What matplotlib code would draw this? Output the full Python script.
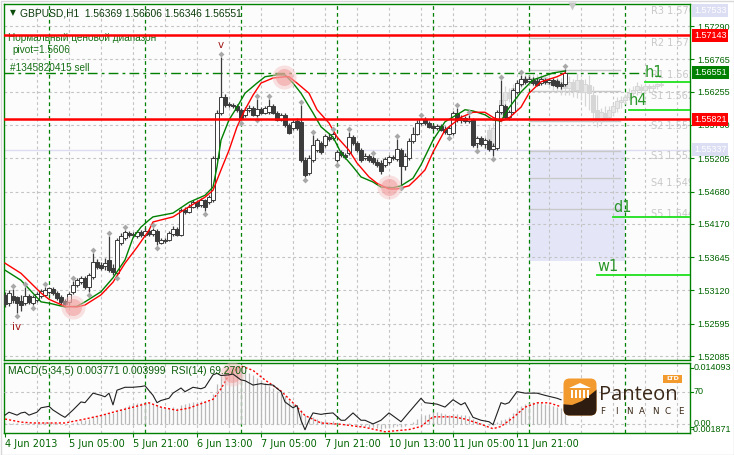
import numpy as np
import matplotlib
matplotlib.use("Agg")
import matplotlib.pyplot as plt
from matplotlib.patches import Rectangle, FancyBboxPatch, Polygon
import matplotlib.transforms as mtransforms

# ---------------------------------------------------------------- data
symbol = "GBPUSD,H1"

opens = [
    1.5305, 1.5292, 1.5303, 1.5302, 1.5295, 1.5292, 1.5303, 1.5292, 1.5297, 1.5303,
    1.5305, 1.5310, 1.5314, 1.5308, 1.5302, 1.5295, 1.5294, 1.5310, 1.5321, 1.5325,
    1.5332, 1.5317, 1.5333, 1.5357, 1.5352, 1.5351, 1.5360, 1.5347, 1.5339, 1.5387,
    1.5395, 1.5403, 1.5399, 1.5398, 1.5404, 1.5399, 1.5406, 1.5401, 1.5406, 1.5387,
    1.5390, 1.5392, 1.5401, 1.5409, 1.5399, 1.5439, 1.5436, 1.5444, 1.5451, 1.5447,
    1.5455, 1.5451, 1.5455, 1.5521, 1.5592, 1.5617, 1.5604, 1.5604, 1.5603, 1.5597,
    1.5589, 1.5597, 1.5600, 1.5589, 1.5598, 1.5592, 1.5593, 1.5603, 1.5592, 1.5581,
    1.5589, 1.5573, 1.5568, 1.5579, 1.5578, 1.5518, 1.5497, 1.5518, 1.5533, 1.5544,
    1.5541, 1.5554, 1.5552, 1.5518, 1.5530, 1.5526, 1.5529, 1.5554, 1.5544, 1.5533,
    1.5521, 1.5524, 1.5521, 1.5515, 1.5513, 1.5510, 1.5515, 1.5522, 1.5519, 1.5533,
    1.5508, 1.5521, 1.5548, 1.5559, 1.5576, 1.5581, 1.5576, 1.5571, 1.5568, 1.5571,
    1.5567, 1.5559, 1.5560, 1.5592, 1.5581, 1.5584, 1.5579, 1.5581, 1.5544, 1.5552,
    1.5543, 1.5548, 1.5535, 1.5537, 1.5593, 1.5603, 1.5585, 1.5593, 1.5625, 1.5638,
    1.5645, 1.5642, 1.5644, 1.5642, 1.5639, 1.5644, 1.5641, 1.5644, 1.5642, 1.5638, 1.56369,
]
closes = [
    1.5291, 1.5308, 1.5297, 1.5292, 1.5289, 1.5303, 1.5294, 1.5302, 1.5306, 1.5311,
    1.5313, 1.5316, 1.5308, 1.5300, 1.5294, 1.5291, 1.5306, 1.5321, 1.5328, 1.5332,
    1.5317, 1.5336, 1.5357, 1.5349, 1.5347, 1.5355, 1.5344, 1.5341, 1.5392, 1.5398,
    1.5404, 1.5399, 1.5401, 1.5404, 1.5399, 1.5406, 1.5401, 1.5407, 1.5390, 1.5392,
    1.5392, 1.5403, 1.5409, 1.5399, 1.5439, 1.5436, 1.5444, 1.5451, 1.5445, 1.5455,
    1.5444, 1.5459, 1.5521, 1.5592, 1.5617, 1.5604, 1.5606, 1.5603, 1.5597, 1.5584,
    1.5597, 1.5600, 1.5589, 1.5598, 1.5592, 1.5600, 1.5603, 1.5592, 1.5581, 1.5589,
    1.5573, 1.5560, 1.5578, 1.5568, 1.5518, 1.5494, 1.5521, 1.5541, 1.5549, 1.5530,
    1.5555, 1.5551, 1.5559, 1.5530, 1.5526, 1.5522, 1.5554, 1.5544, 1.5533, 1.5518,
    1.5524, 1.5518, 1.5515, 1.5510, 1.5500, 1.5519, 1.5522, 1.5521, 1.5535, 1.5508,
    1.5524, 1.5548, 1.5559, 1.5576, 1.5582, 1.5576, 1.5570, 1.5568, 1.5571, 1.5565,
    1.5562, 1.5568, 1.5592, 1.5581, 1.5584, 1.5579, 1.5582, 1.5541, 1.5552, 1.5543,
    1.5549, 1.5535, 1.5540, 1.5593, 1.5604, 1.5585, 1.5593, 1.5628, 1.5639, 1.5645,
    1.5641, 1.5645, 1.5639, 1.5636, 1.5645, 1.5641, 1.5644, 1.5636, 1.5634, 1.5634, 1.56551,
]
highs = [
    1.5310, 1.5313, 1.5314, 1.5303, 1.5305, 1.5317, 1.5306, 1.5305, 1.5310, 1.5314,
    1.5317, 1.5317, 1.5317, 1.5311, 1.5305, 1.5298, 1.5310, 1.5327, 1.5332, 1.5335,
    1.5335, 1.5339, 1.5371, 1.5362, 1.5357, 1.5363, 1.5398, 1.5354, 1.5395, 1.5403,
    1.5407, 1.5406, 1.5404, 1.5407, 1.5407, 1.5410, 1.5409, 1.5410, 1.5409, 1.5395,
    1.5395, 1.5406, 1.5414, 1.5412, 1.5442, 1.5444, 1.5448, 1.5455, 1.5455, 1.5458,
    1.5456, 1.5462, 1.5524, 1.5597, 1.5680, 1.5622, 1.5609, 1.5608, 1.5606, 1.5600,
    1.5601, 1.5604, 1.5603, 1.5614, 1.5601, 1.5603, 1.5614, 1.5606, 1.5595, 1.5592,
    1.5592, 1.5576, 1.5581, 1.5584, 1.5604, 1.5522, 1.5526, 1.5557, 1.5552, 1.5548,
    1.5559, 1.5560, 1.5562, 1.5533, 1.5533, 1.5529, 1.5562, 1.5557, 1.5548, 1.5537,
    1.5529, 1.5527, 1.5524, 1.5519, 1.5518, 1.5522, 1.5526, 1.5526, 1.5551, 1.5537,
    1.5529, 1.5552, 1.5570, 1.5581, 1.5584, 1.5585, 1.5579, 1.5574, 1.5574, 1.5574,
    1.5571, 1.5571, 1.5595, 1.5600, 1.5589, 1.5587, 1.5589, 1.5584, 1.5555, 1.5555,
    1.5552, 1.5551, 1.5544, 1.5597, 1.5644, 1.5606, 1.5597, 1.5631, 1.5644, 1.5652,
    1.5650, 1.5650, 1.5649, 1.5647, 1.5649, 1.5647, 1.5647, 1.5647, 1.5645, 1.5641, 1.56606,
]
lows = [
    1.5286, 1.5287, 1.5292, 1.5276, 1.5280, 1.5289, 1.5291, 1.5289, 1.5294, 1.5300,
    1.5303, 1.5306, 1.5305, 1.5297, 1.5291, 1.5286, 1.5289, 1.5306, 1.5317, 1.5322,
    1.5314, 1.5310, 1.5330, 1.5346, 1.5344, 1.5344, 1.5341, 1.5336, 1.5336, 1.5384,
    1.5392, 1.5396, 1.5396, 1.5395, 1.5396, 1.5396, 1.5398, 1.5398, 1.5384, 1.5385,
    1.5387, 1.5390, 1.5398, 1.5398, 1.5398, 1.5433, 1.5434, 1.5442, 1.5442, 1.5444,
    1.5437, 1.5448, 1.5451, 1.5518, 1.5589, 1.5601, 1.5601, 1.5600, 1.5593, 1.5581,
    1.5585, 1.5593, 1.5587, 1.5585, 1.5590, 1.5590, 1.5590, 1.5590, 1.5579, 1.5579,
    1.5570, 1.5559, 1.5565, 1.5565, 1.5515, 1.5491, 1.5494, 1.5515, 1.5530, 1.5527,
    1.5538, 1.5548, 1.5549, 1.5515, 1.5522, 1.5519, 1.5526, 1.5541, 1.5530, 1.5515,
    1.5518, 1.5515, 1.5511, 1.5507, 1.5496, 1.5507, 1.5511, 1.5518, 1.5516, 1.5478,
    1.5502, 1.5518, 1.5544, 1.5557, 1.5573, 1.5573, 1.5568, 1.5565, 1.5565, 1.5563,
    1.5559, 1.5557, 1.5557, 1.5578, 1.5576, 1.5576, 1.5576, 1.5538, 1.5537, 1.5540,
    1.5537, 1.5532, 1.5524, 1.5533, 1.5590, 1.5582, 1.5581, 1.5590, 1.5622, 1.5634,
    1.5638, 1.5639, 1.5636, 1.5634, 1.5636, 1.5638, 1.5638, 1.5634, 1.5631, 1.5630, 1.56346,
]

# pale projected candles (bars 121 .. 164)
ghost_first = 121
ghost_open = [
    1.5565, 1.5541, 1.5568, 1.5581, 1.5612, 1.5625, 1.5617, 1.5631, 1.5636, 1.5644,
    1.5647, 1.5641, 1.5647, 1.5644, 1.5649, 1.5644, 1.5638, 1.5644, 1.5634, 1.5641,
    1.5631, 1.5641, 1.5628, 1.5644, 1.5625, 1.5636, 1.5620, 1.5597, 1.5581, 1.5592,
    1.5585, 1.5593, 1.5600, 1.5609, 1.5612, 1.5617, 1.5623, 1.5628, 1.5633, 1.5628,
    1.5634, 1.5631, 1.5634, 1.5636,
]
ghost_close = [
    1.5541, 1.5568, 1.5581, 1.5612, 1.5625, 1.5615, 1.5631, 1.5636, 1.5644, 1.5647,
    1.5641, 1.5647, 1.5644, 1.5649, 1.5644, 1.5638, 1.5644, 1.5634, 1.5641, 1.5631,
    1.5641, 1.5628, 1.5644, 1.5625, 1.5638, 1.5623, 1.5593, 1.5581, 1.5593, 1.5584,
    1.5597, 1.5603, 1.5611, 1.5612, 1.5617, 1.5623, 1.5628, 1.5634, 1.5628, 1.5634,
    1.5631, 1.5634, 1.5638, 1.5638,
]
ghost_high = [
    1.5573, 1.5576, 1.5589, 1.5620, 1.5634, 1.5631, 1.5638, 1.5644, 1.5650, 1.5653,
    1.5652, 1.5653, 1.5653, 1.5655, 1.5653, 1.5650, 1.5649, 1.5649, 1.5647, 1.5647,
    1.5650, 1.5645, 1.5655, 1.5647, 1.5645, 1.5652, 1.5634, 1.5620, 1.5600, 1.5603,
    1.5603, 1.5608, 1.5617, 1.5619, 1.5622, 1.5631, 1.5634, 1.5641, 1.5638, 1.5639,
    1.5638, 1.5638, 1.5639, 1.5641,
]
ghost_low = [
    1.5533, 1.5537, 1.5565, 1.5576, 1.5606, 1.5609, 1.5612, 1.5625, 1.5631, 1.5638,
    1.5636, 1.5634, 1.5638, 1.5639, 1.5638, 1.5631, 1.5628, 1.5625, 1.5620, 1.5620,
    1.5620, 1.5617, 1.5615, 1.5612, 1.5603, 1.5597, 1.5576, 1.5570, 1.5574, 1.5579,
    1.5581, 1.5587, 1.5593, 1.5600, 1.5606, 1.5612, 1.5617, 1.5620, 1.5622, 1.5623,
    1.5625, 1.5626, 1.5630, 1.5633,
]

up_fractals = [2, 5, 10, 17, 22, 26, 30, 37, 54, 63, 66, 74, 77, 82, 86, 92, 98,
               104, 113, 116, 124, 129, 140]
down_fractals = [3, 7, 21, 28, 38, 50, 59, 63, 75, 83, 99, 111, 118, 122]

ma_fast_idx = [0, 4, 9, 11, 15, 18, 20, 24, 27, 30, 32, 34, 36, 37, 42, 46, 50, 52, 53, 54,
               56, 58, 60, 63, 65, 68, 70, 72, 74, 77, 79, 82, 84, 87, 89, 92, 94, 97, 99, 102,
               104, 107, 110, 114, 115, 117, 120, 122, 124, 126, 129, 132, 137, 140]
ma_fast = [1.5344, 1.5328, 1.5294, 1.5292, 1.5286, 1.5287, 1.5294, 1.5310, 1.5332, 1.5360,
           1.5395, 1.5412, 1.5423, 1.5428, 1.5434, 1.5451, 1.5462, 1.5475, 1.5507, 1.5549,
           1.5581, 1.5601, 1.5623, 1.5639, 1.5649, 1.5652, 1.5652, 1.5639, 1.5623, 1.5592,
           1.5570, 1.5554, 1.5529, 1.5507, 1.5491, 1.5483, 1.5475, 1.5474, 1.5477, 1.5489,
           1.5510, 1.5549, 1.5578, 1.5593, 1.5597, 1.5595, 1.5589, 1.5581, 1.5579, 1.5600,
           1.5625, 1.5644, 1.5655, 1.5658]
ma_slow_idx = [0, 4, 9, 11, 15, 18, 20, 24, 27, 30, 33, 36, 37, 42, 46, 50, 52, 54, 56, 58,
               60, 62, 64, 67, 70, 71, 73, 76, 78, 81, 83, 86, 88, 91, 93, 96, 98, 101, 103, 105,
               107, 110, 114, 117, 120, 122, 124, 126, 129, 131, 134, 138, 140]
ma_slow = [1.5355, 1.5339, 1.5308, 1.5298, 1.5287, 1.5286, 1.5289, 1.5305, 1.5325, 1.5355,
           1.5380, 1.5407, 1.5420, 1.5428, 1.5444, 1.5459, 1.5470, 1.5502, 1.5533, 1.5570,
           1.5597, 1.5620, 1.5639, 1.5647, 1.5649, 1.5649, 1.5639, 1.5623, 1.5597, 1.5576,
           1.5554, 1.5533, 1.5513, 1.5491, 1.5481, 1.5472, 1.5472, 1.5477, 1.5489, 1.5502,
           1.5530, 1.5565, 1.5585, 1.5593, 1.5593, 1.5585, 1.5579, 1.5584, 1.5601, 1.5623,
           1.5641, 1.5649, 1.5655]

macd_hist = [
    0.0004, 0.0003, 0.0004, 0.0002, 0.0001, 0.0003, 0.0002, 0.0002, 0.0003, 0.0004,
    0.0005, 0.0005, 0.0004, 0.0002, 0.0000, -0.0002,
    0.0000, 0.0003, 0.0006, 0.0009, 0.0010, 0.0013, 0.0018, 0.0020, 0.0022,
    0.0024, 0.0026, 0.0026, 0.0032, 0.0036, 0.0040, 0.0043, 0.0046,
    0.0048, 0.0049, 0.0050, 0.0050, 0.0047, 0.0043, 0.0040, 0.0037,
    0.0037, 0.0039, 0.0038, 0.0043, 0.0046, 0.0048, 0.0051, 0.0051, 0.0053, 0.0052,
    0.0054, 0.0070, 0.0092, 0.0110, 0.0118, 0.0124, 0.0128, 0.0130, 0.0128, 0.0124,
    0.0118, 0.0112, 0.0106, 0.0100, 0.0094, 0.0088, 0.0083, 0.0077, 0.0071, 0.0064,
    0.0056, 0.0049, 0.0042, 0.0032, 0.0022, 0.0017, 0.0016, 0.0012, 0.0008, 0.0007,
    0.0006, 0.0007, 0.0003, 0.0000, -0.0001, 0.0002, 0.0001, -0.0002, -0.0004, -0.0005,
    -0.0006, -0.0007, -0.0008, -0.0010, -0.0009, -0.0008, -0.0007, -0.0004, -0.0006, -0.0004,
    0.0001, 0.0006, 0.0012, 0.0018, 0.0021, 0.0024, 0.0027, 0.0027, 0.0025, 0.0024,
    0.0022, 0.0024, 0.0024, 0.0022, 0.0021, 0.0019, 0.0012, 0.0007, 0.0004, 0.0001,
    -0.0001, -0.0002, 0.0006, 0.0010, 0.0012, 0.0016, 0.0026, 0.0036, 0.0042, 0.0047,
    0.0049, 0.0050, 0.0050, 0.0048, 0.0046, 0.0044, 0.0042, 0.0039, 0.0037, 0.0038,
]
signal_idx = [0, 4, 7, 15, 20, 24, 28, 32, 36, 39, 43, 46, 49, 52, 54, 56, 59, 62, 65, 69,
              72, 75, 79, 84, 90, 95, 101, 104, 107, 112, 115, 119, 122, 124, 127, 130, 133, 136, 139]
signal_vals = [0.0012, 0.0005, 0.0003, 0.0003, 0.0012, 0.0020, 0.0030, 0.0039, 0.0049, 0.0039,
               0.0032, 0.0037, 0.0047, 0.0057, 0.0081, 0.0113, 0.0133, 0.0123, 0.0101, 0.0076,
               0.0049, 0.0020, 0.0003, 0.0000, -0.0007, -0.0017, -0.0012, -0.0005, 0.0017, 0.0017,
               0.0012, 0.0000, -0.0010, -0.0005, 0.0015, 0.0039, 0.0049, 0.0049, 0.0040]
rsi_idx = [0, 1, 3, 4, 5, 6, 8, 9, 11, 12, 14, 15, 17, 19, 20, 22, 24, 25, 26, 27,
           28, 30, 32, 34, 35, 37, 38, 39, 41, 42, 44, 45, 47, 49, 50, 52, 53, 54, 56, 57,
           59, 60, 62, 64, 65, 67, 69, 70, 72, 73, 74, 75, 76, 77, 79, 80, 82, 84, 85, 87,
           89, 90, 92, 94, 96, 99, 101, 104, 105, 108, 110, 112, 114, 115, 117, 119, 121, 122, 124, 125,
           126, 128, 130, 133, 135, 138, 139]
rsi_vals = [38, 42, 38, 41, 42, 38, 42, 48, 50, 45, 38, 35, 45, 56, 55, 68, 65, 63, 68, 52,
            72, 76, 76, 77, 78, 65, 55, 58, 61, 68, 75, 70, 76, 74, 76, 93, 95, 92, 93, 94,
            86, 85, 79, 81, 80, 79, 70, 56, 48, 51, 31, 18, 31, 41, 39, 40, 41, 31, 31, 41,
            31, 31, 26, 31, 41, 29, 42, 61, 55, 53, 49, 59, 52, 55, 35, 31, 29, 25, 55, 53,
            55, 70, 68, 68, 65, 61, 59]
macd_last, signal_last, rsi_last = 0.003771, 0.003999, 69.27
macd_max, macd_min = 0.014093, -0.001871
rsi_level = 70

time_ticks = [0, 16, 32, 48, 64, 80, 96, 112, 128]
time_labels = ["4 Jun 2013", "5 Jun 05:00", "5 Jun 21:00", "6 Jun 13:00", "7 Jun 05:00",
               "7 Jun 21:00", "10 Jun 13:00", "11 Jun 05:00", "11 Jun 21:00"]
day_starts = [11, 35, 59, 83, 107, 131, 155]
price_ticks = [1.52085, 1.52595, 1.53120, 1.53645, 1.54170, 1.54680, 1.55205,
               1.55730, 1.56255, 1.56765, 1.57290]

resistance_lines = [1.57143, 1.55821]
order_price = 1.56551
order_label = "#1345820415 sell"
zone_line = 1.55337
top_marker_price = 1.57533
range_label = "Нормальный ценовой диапазон"
pivot_value = 1.5606
pivot_names = ["R3", "R2", "R1", "S1", "S2", "S3", "S4", "S5"]
pivot_values = [1.5760, 1.5710, 1.5659, 1.5626, 1.5579, 1.5532, 1.5490, 1.5440]
tf_names = ["h1", "h4", "d1", "w1"]
tf_levels = [1.5641, 1.5597, 1.5428, 1.5336]
tf_start = [160, 156, 152, 148]
box_start, box_end = 131, 155
box_low, box_high = 1.5358, 1.5532
wave_labels = [("v", 54, "up"), ("iv", 3, "down")]
circle_main_x = [17, 69.75, 96]
circle_main_y = [1.5286, 1.5649, 1.5475]
circle_sub_x, circle_sub_y = 56.75, 0.01155

# ---------------------------------------------------------------- layout
W, H = 734, 455
fig = plt.figure(figsize=(W / 100, H / 100), dpi=100, facecolor="white")


def fx(px):
    return px / W


def fy(py):
    return 1 - py / H


L_PX, R_PX = 3.5, 690.0
MAIN_TOP, MAIN_BOT = 3.5, 359.5
SUB_TOP, SUB_BOT = 362.5, 432.5
XMIN, XMAX = -0.375, 171.25
PRICE_LO, PRICE_HI = 1.52031, 1.57645
RSI_LO, RSI_HI = 14.3, 109.8

BG = "#fcfcfc"
GREEN = "#008000"
TXT = "#006400"
GRID = "#c4c4c4"
CANDLE = "#3c3c3c"
LAV = "#dcdef4"
NARROW = "Liberation Sans"

ax = fig.add_axes([fx(L_PX), fy(MAIN_BOT), fx(R_PX) - fx(L_PX), fy(MAIN_TOP) - fy(MAIN_BOT)])
axs = fig.add_axes([fx(L_PX), fy(SUB_BOT), fx(R_PX) - fx(L_PX), fy(SUB_TOP) - fy(SUB_BOT)])
ov = fig.add_axes([0, 0, 1, 1], zorder=20)
ov.set_xlim(0, W)
ov.set_ylim(H, 0)
ov.axis("off")
PX = ov.transData

for a in (ax, axs):
    a.set_facecolor(BG)
    a.set_xlim(XMIN, XMAX)
    for s in a.spines.values():
        s.set_color(GREEN)
        s.set_linewidth(1.0)
ax.set_ylim(PRICE_LO, PRICE_HI)
axs.set_ylim(macd_min, macd_max)

# grid
for t in price_ticks:
    ax.axhline(t, color=GRID, lw=0.8, ls=(0, (2.5, 2.5)), zorder=1)
for g in range(8, int(XMAX) + 1, 8):
    for a in (ax, axs):
        a.axvline(g, color=GRID, lw=0.8, ls=(0, (2.5, 2.5)), zorder=1)
for d in day_starts:
    for a in (ax, axs):
        a.axvline(d, color=GREEN, lw=0.9, ls=(0, (3, 2.5)), zorder=1.5)

# zone box and levels
ax.add_patch(Rectangle((box_start, box_low), box_end - box_start, box_high - box_low,
                       fc="#e4e6f8", ec="none", zorder=0.8))
ax.axhline(zone_line, color="#dcdcf2", lw=1.0, zorder=1.2)
for v in pivot_values[1:]:
    ax.plot([box_start, 153.75], [v, v], color="#c8c8c8", lw=1.0, zorder=1.3)
for n, v in zip(pivot_names, pivot_values):
    ax.text(161.5, v, f"{n} {v:.4f}", fontsize=7, color="#c8c8c8", va="top", ha="left",
            clip_on=True, zorder=2)
for n, lvl, s in zip(tf_names, tf_levels, tf_start):
    ax.plot([s, XMAX], [lvl, lvl], color="#1fe01f", lw=1.3, zorder=3)
    ax.annotate(n, (s, lvl), xytext=(0, 3.4), textcoords="offset points", fontsize=10.5,
                color="#2a962a", va="baseline", ha="left", zorder=4)


# candles
def draw_candles(a, xs, o, h, l, c, body_up, body_dn, edge, z):
    a.vlines(xs, l, h, color=edge, lw=0.9, zorder=z)
    for x, oo, cc in zip(xs, o, c):
        lo, hi = min(oo, cc), max(oo, cc)
        hgt = max(hi - lo, 0.00006)
        fc = body_up if cc > oo else body_dn
        a.add_patch(Rectangle((x - 0.38, lo), 0.76, hgt, fc=fc, ec=edge, lw=0.7,
                              zorder=z + 0.1))


gidx = np.arange(ghost_first, ghost_first + len(ghost_close))
draw_candles(ax, gidx, ghost_open, ghost_high, ghost_low, ghost_close,
             "#e6e6e6", "#d6d6d6", "#d6d6d6", 2)
idx = np.arange(len(closes))
draw_candles(ax, idx, opens, highs, lows, closes, "white", CANDLE, CANDLE, 4)

# moving averages
ax.plot(ma_fast_idx, ma_fast, color=GREEN, lw=1.0, zorder=5)
ax.plot(ma_slow_idx, ma_slow, color="#ff0000", lw=1.0, zorder=5)

# horizontal objects
for r in resistance_lines:
    ax.axhline(r, color="#ff0000", lw=1.8, zorder=6)
ax.plot([XMIN, tf_start[0]], [order_price, order_price], color=GREEN, lw=1.0,
        ls=(0, (7, 3, 2, 3)), zorder=3)

# fractals
gap = 0.0005
ax.scatter(up_fractals, [highs[i] + gap for i in up_fractals], marker="D", s=9,
           color="#a8a8a8", lw=0, zorder=5)
ax.scatter(down_fractals, [lows[i] - gap for i in down_fractals], marker="D", s=9,
           color="#a8a8a8", lw=0, zorder=5)
for lab, i, side in wave_labels:
    if side == "up":
        ax.annotate(lab, (i, highs[i]), xytext=(0, 5), textcoords="offset points",
                    ha="center", va="bottom", fontsize=7.5, color="#a01818", zorder=6)
    else:
        ax.annotate(lab, (i, lows[i]), xytext=(0, -6), textcoords="offset points",
                    ha="center", va="top", fontsize=7.5, color="#a01818", zorder=6)

# highlight circles
ax.scatter(circle_main_x, circle_main_y, s=300, color="#f7c0c0", alpha=0.45, lw=0, zorder=7)
ax.scatter(circle_main_x, circle_main_y, s=150, color="#f09a9a", alpha=0.55, lw=0, zorder=7)

# right price axis
ax.yaxis.tick_right()
ax.set_yticks(price_ticks)
ax.set_yticklabels([f"{t:.5f}" for t in price_ticks], fontsize=6.5, family=NARROW, color=TXT)
ax.tick_params(axis="y", length=3, width=0.8, color=GREEN, pad=2, direction="out")
ax.set_xticks([])

trans_r = mtransforms.blended_transform_factory(ax.transAxes, ax.transData)


def price_box(price, fc):
    ax.text(1.0 + 4.0 / (R_PX - L_PX), price, f"{price:.5f}", transform=trans_r,
            fontsize=6.5, family=NARROW, color="white", va="center", ha="left",
            bbox=dict(boxstyle="square,pad=0.22", fc=fc, ec="none"), clip_on=False, zorder=10)


price_box(top_marker_price, LAV)
price_box(resistance_lines[0], "#ff0000")
price_box(order_price, GREEN)
price_box(resistance_lines[1], "#ff0000")
price_box(zone_line, LAV)

# top-left texts
title = f"{symbol}  {opens[-1]:.5f} {highs[-1]:.5f} {lows[-1]:.5f} {closes[-1]:.5f}"
ax.text(10, 13, "▼", transform=PX, fontsize=5.5, color="#0b4b0b", va="center", zorder=8)
ax.text(20, 13, title, transform=PX, fontsize=7.4, family=NARROW, color="#0b3b0b",
        va="center", zorder=8)
ax.text(8, 38, range_label, transform=PX, fontsize=7.2, family=NARROW, color="#167016",
        va="center", zorder=2)
ax.text(12, 50, f"pivot={pivot_value:.4f}", transform=PX, fontsize=7.2, family=NARROW,
        color="#167016", va="center", zorder=2)
ax.text(10, 68, order_label, transform=PX, fontsize=7.2, family=NARROW, color="#167016",
        va="center", zorder=2)

# ---------------------------------------------------------------- sub window
axs.vlines(idx, 0, macd_hist, color="#b8b8b8", lw=0.9, zorder=2)
axs.axhline(0, color=GRID, lw=0.8, ls=(0, (2.5, 2.5)), zorder=1)
axs.plot(signal_idx, signal_vals, color="#ff0000", lw=1.0, ls=(0, (1.5, 1.5)), zorder=3)
axs.scatter([circle_sub_x], [circle_sub_y], s=300, color="#f7c0c0", alpha=0.45, lw=0, zorder=4)
axs.scatter([circle_sub_x], [circle_sub_y], s=150, color="#f09a9a", alpha=0.55, lw=0, zorder=4)
axs.set_yticks([])
axs.set_xticks(time_ticks)
axs.set_xticklabels(time_labels, fontsize=7, color=TXT, ha="left")
axs.tick_params(axis="x", length=3, width=0.8, color=GREEN, pad=1.5)

axr = axs.twinx()
axr.set_ylim(RSI_LO, RSI_HI)
axr.set_xlim(XMIN, XMAX)
axr.axis("off")
axr.axhline(rsi_level, color=GRID, lw=0.8, ls=(0, (2.5, 2.5)), zorder=1)
axr.plot(rsi_idx, rsi_vals, color="#202020", lw=0.8, zorder=3)

ov.text(8, 371, f"MACD(5,34,5) {macd_last:.6f} {signal_last:.6f}  RSI(14) {rsi_last:.4f}",
        fontsize=7.4, family=NARROW, color="#0b5e0b", va="center")
sub_lab = dict(fontsize=6.5, family=NARROW, color=TXT, va="center", ha="left")
ov.text(694, 368, f"{macd_max:.6f}", **sub_lab)
ov.text(694, 392, f"{rsi_level}", **sub_lab)
ov.text(694, 424, "0.00", **sub_lab)
ov.text(691, 430, f"{macd_min:.6f}", **sub_lab)
for yy in (368, 392, 427):
    ov.plot([690, 693], [yy, yy], color=GREEN, lw=0.8)

# chart-shift marker
ov.plot([572], [6], marker="v", ms=6, color="#c8c8c8", mec="none")

# logo
icon = FancyBboxPatch((565, 380), 30, 34, boxstyle="round,pad=1.5,rounding_size=6",
                      fc="#f39a2e", ec="none")
ov.add_patch(icon)
sw = Polygon([(560, 404), (572, 405), (582, 401), (590, 395), (600, 387), (600, 420), (560, 420)],
             closed=True, fc="#2e1c10", ec="none")
ov.add_patch(sw)
sw.set_clip_path(icon)
ov.add_patch(Polygon([(569, 388), (580, 383), (591, 388)], closed=True, fc="white", ec="none"))
for cx in (570.5, 574.5, 578.5, 582.5, 586.5):
    ov.add_patch(Rectangle((cx, 389.5), 2, 8, fc="white", ec="none"))
ov.add_patch(Rectangle((663, 375), 19, 8, fc="#f39a2e", ec="none"))
ov.text(672.5, 379, "LTD", fontsize=4.6, color="white", ha="center", va="center", weight="bold")
ov.text(599, 395, "Panteon", fontsize=14.5, family="Open Sans", color="#3a2718",
        va="center", ha="left")
for k, ch in enumerate("FINANCE"):
    ov.text(603 + k * 13, 411.5, ch, fontsize=6.3, color="#3a2718", ha="center", va="center")

# window frame
ov.add_patch(Rectangle((0.5, 0.5), W - 1, H - 1, fill=False, ec="#d8d8d8", lw=1))

fig.savefig("out.png", dpi=100, facecolor="white")
